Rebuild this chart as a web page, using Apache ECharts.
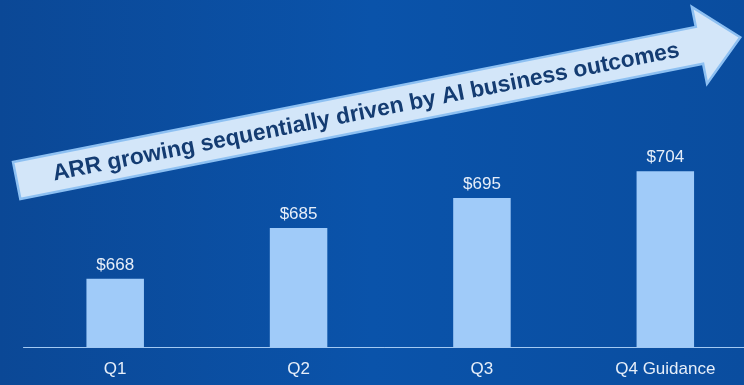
<!DOCTYPE html>
<html>
<head>
<meta charset="utf-8">
<script src="https://cdn.jsdelivr.net/npm/echarts@6/dist/echarts.min.js"></script>
<style>html,body{margin:0;padding:0;background:#0a4ea3}#c{width:744px;height:385px}</style>
</head>
<body>
<div id="c"></div>
<script>
var categories = ['Q1', 'Q2', 'Q3', 'Q4 Guidance'];
var arrValues = [668, 685, 695, 704];
var arrowText = 'ARR growing sequentially driven by AI business outcomes';

var chart = echarts.init(document.getElementById('c'), null, {renderer: 'canvas'});

// decorative arrow geometry
var tail = [16.7, 180.5], theta = 11.2 * Math.PI / 180, L = 737.6;
var bh = 18.8, hh = 39.2, hl = 41.6;
function P(a, b) {
  return [tail[0] + a * Math.cos(theta) + b * Math.sin(theta),
          tail[1] - a * Math.sin(theta) + b * Math.cos(theta)];
}
var arrowPts = [P(0, -bh), P(L - hl, -bh), P(L - hl, -hh), P(L, 0), P(L - hl, hh), P(L - hl, bh), P(0, bh)];
var tc = P(356, 1);

chart.setOption({
  backgroundColor: {
    type: 'linear', x: 0, y: 0, x2: 1, y2: 0,
    colorStops: [
      {offset: 0, color: '#0b4896'},
      {offset: 0.5, color: '#0a53aa'},
      {offset: 1, color: '#0a4d9f'}
    ]
  },
  animation: false,
  grid: {left: 23.5, right: -13, top: 34, bottom: 37.7, outerBoundsMode: 'none', containLabel: false},
  xAxis: {
    type: 'category',
    data: categories,
    axisLine: {lineStyle: {color: '#a3c9f2', width: 1}},
    axisTick: {show: false},
    axisLabel: {color: '#e6eef9', fontSize: 17, fontFamily: 'Liberation Sans', margin: 14, interval: 0}
  },
  yAxis: {type: 'value', min: 645, max: 750, show: false, splitLine: {show: false}},
  series: [{
    type: 'bar',
    data: arrValues,
    barWidth: 57.5,
    itemStyle: {color: '#a0cbf9'},
    label: {
      show: true, position: 'top', distance: 5,
      color: '#e6eef9', fontSize: 17, fontFamily: 'Liberation Sans',
      formatter: function (p) { return '$' + p.value; }
    }
  }],
  graphic: [
    {
      type: 'polygon',
      shape: {points: arrowPts},
      style: {fill: '#d3e6f9', stroke: '#8dc0f2', lineWidth: 2.5},
      z: 10
    },
    {
      type: 'text',
      x: tc[0], y: tc[1],
      rotation: theta,
      style: {
        text: arrowText,
        font: 'bold 22.8px "Liberation Sans"',
        fill: '#143c72',
        align: 'center',
        verticalAlign: 'middle'
      },
      z: 11
    }
  ]
});
</script>
</body>
</html>
